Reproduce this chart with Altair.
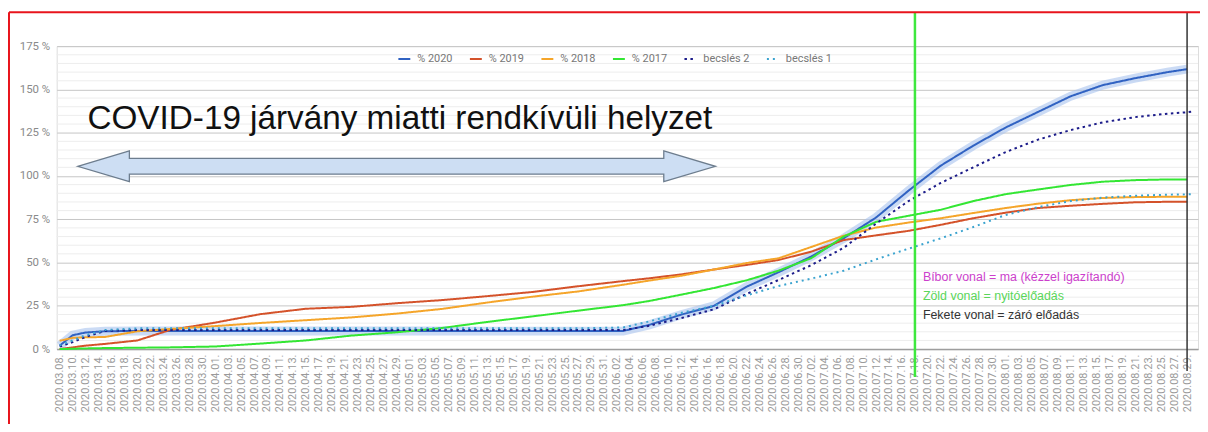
import altair as alt
import pandas as pd

# ---------------- data ----------------
DATES = ["2020-03-08", "2020-03-10", "2020-03-12", "2020-03-15", "2020-03-20", "2020-03-25",
         "2020-04-01", "2020-04-08", "2020-04-15", "2020-04-22", "2020-04-29", "2020-05-06",
         "2020-05-13", "2020-05-20", "2020-05-27", "2020-06-03", "2020-06-07", "2020-06-12",
         "2020-06-17", "2020-06-22", "2020-06-27", "2020-07-02", "2020-07-07", "2020-07-12",
         "2020-07-17", "2020-07-22", "2020-07-27", "2020-08-01", "2020-08-06", "2020-08-11",
         "2020-08-16", "2020-08-21", "2020-08-26", "2020-08-29", "2020-08-30"]

P2020 = [2, 8, 9.6, 10.3, 10.5, 10.5, 10.5, 10.5, 10.5, 10.5, 10.5, 10.5, 10.4, 10.4, 10.4, 10.5,
         14, 20, 25, 36, 44.5, 53.5, 64, 76, 91.5, 106, 117.5, 128, 137, 146, 152.5, 156.5, 160, 161.7, None]
P2019 = [0, 1, 2, 3, 5, 11, 15.3, 20.2, 23.3, 24.4, 26.5, 28.3, 30.6, 33, 36.3, 39.3, 40.9, 43.2,
         46, 48.6, 51.5, 56.3, 63, 65.7, 68.3, 71.8, 75.6, 78.8, 81.5, 82.8, 83.9, 84.8, 85.1, 85.1, None]
P2018 = [4.8, 6.5, 6.8, 7, 10.3, 11.6, 13.3, 15.1, 16.7, 18.3, 20.5, 23.2, 26.9, 30.3, 33.3, 37.2,
         39.6, 42.4, 46, 49.7, 52.5, 59, 65.5, 70.2, 73.1, 75.6, 78.6, 81.5, 84, 86, 87.3, 87.8, 88, 88, None]
P2017 = [0, 0.2, 0.4, 0.6, 0.8, 1, 1.5, 3.2, 5, 7.8, 9.7, 12.2, 15.7, 18.9, 22.2, 25.4, 27.8, 31.5,
         35.3, 39.7, 45.4, 52.5, 65, 73.5, 77, 80.5, 85.5, 89.5, 92.2, 94.8, 96.7, 97.6, 98, 98, None]
BECSLES2 = [1.5, 4, 7, 10.5, 11, 11, 11, 11, 11, 11, 11, 11, 11, 11, 11, 11, 13.5, 18, 23, 31.8,
            40, 48.5, 58.5, 72.5, 85.5, 96, 105, 113.8, 121, 126.5, 131, 134, 136, 136.8, 137.3]
BECSLES1 = [2, 5, 8, 11, 12, 12, 12, 12, 12, 12, 12, 12, 12, 12, 12, 12.5, 16, 21, 25, 31, 36.5,
            40.7, 45.3, 51.8, 58, 64, 70.5, 77.5, 82, 85.5, 87.5, 88.6, 89.2, 89.4, 89.5]

SERIES = ["% 2020", "% 2019", "% 2018", "% 2017", "becslés 2", "becslés 1"]
VALUES = [P2020, P2019, P2018, P2017, BECSLES2, BECSLES1]
COLORS = ["#3062c2", "#d4522a", "#f5a52a", "#33e633", "#1c1c8a", "#3aa3cf"]

Y_TICKS = [0, 25, 50, 75, 100, 125, 150, 175]
MINOR_GRID = [v for v in range(5, 175, 5) if v % 25]
X_TICKS = pd.date_range("2020-03-08", "2020-08-29", freq="2D")

TITLE = "COVID-19 járvány miatti rendkívüli helyzet"
NOTES = ["Bíbor vonal = ma (kézzel igazítandó)", "Zöld vonal = nyitóelőadás", "Fekete vonal = záró előadás"]
NOTE_COLORS = ["#cc3fcc", "#5ad65a", "#333333"]

# ---------------- build ----------------
rows = []
for name, vals in zip(SERIES, VALUES):
    for d, v in zip(DATES, vals):
        if v is not None:
            rows.append({"date": d, "series": name, "value": v})
df = pd.DataFrame(rows)


def dt(y, m, d, h=0, mi=0):
    return alt.DateTime(year=y, month=m, date=d, hours=h, minutes=mi, utc=True)


X_SCALE = alt.Scale(type="utc", domain=[dt(2020, 3, 7, 13), dt(2020, 8, 30, 16, 30)])
Y_SCALE = alt.Scale(domain=[0, 175], nice=False, zero=True)

x_axis = alt.Axis(values=[dt(t.year, t.month, t.day) for t in X_TICKS], format="%Y.%m.%d.",
                  labelAngle=270, labelFontSize=11, labelColor="#9a9a9a", labelPadding=5,
                  labelFont="Roboto", labelOverlap=False, labelFlush=False, ticks=False,
                  grid=False, domain=True, domainColor="#9e9e9e", domainWidth=1.5, title=None)
y_axis = alt.Axis(values=Y_TICKS, labelExpr="datum.value + ' %'", gridColor="#c6c6c6", gridWidth=1,
                  domain=False, ticks=False, labelColor="#8a8a8a", labelFontSize=11.5, labelPadding=7,
                  labelFont="Roboto", title=None)

color = alt.Color("series:N", scale=alt.Scale(domain=SERIES, range=COLORS),
                  legend=alt.Legend(orient="none", legendX=343, legendY=6, direction="horizontal",
                                    columns=6, title=None, symbolType="stroke", symbolSize=144,
                                    symbolStrokeWidth=4, labelFontSize=11, labelColor="#777777",
                                    labelFont="Roboto", columnPadding=13, labelOffset=6,
                                    padding=0, offset=0))
dash = alt.StrokeDash("series:N", scale=alt.Scale(domain=SERIES,
                      range=[[1, 0], [1, 0], [1, 0], [1, 0], [2.5, 3.5], [2, 4]]))
width = alt.StrokeWidth("series:N", scale=alt.Scale(domain=SERIES, range=[2, 2, 2, 2, 3, 2.5]),
                        legend=None)

X_ENC = alt.X("date:T", scale=X_SCALE, axis=x_axis)
Y_ENC = alt.Y("value:Q", scale=Y_SCALE, axis=y_axis)

minor = alt.Chart(pd.DataFrame({"value": MINOR_GRID})).mark_rule(color="#ededed", strokeWidth=1).encode(
    y=Y_ENC)

band = alt.Chart(df[df.series == "% 2020"]).mark_line(color="#a9c3ee", strokeWidth=9, opacity=0.6).encode(
    x=X_ENC, y=Y_ENC)

actual = alt.Chart(df[df.series.isin(SERIES[:4])]).mark_line().encode(
    x=X_ENC, y=Y_ENC, color=color, strokeDash=dash, strokeWidth=width,
    order=alt.Order("date:T"))

estimates = alt.Chart(df[df.series.isin(SERIES[4:])]).mark_line().encode(
    x=X_ENC, y=Y_ENC, color=color, strokeDash=dash, strokeWidth=width,
    order=alt.Order("date:T"))


def xd(d):
    return alt.XDatum(d, type="temporal", axis=x_axis)


def yd(v):
    return alt.YDatum(v, axis=y_axis)


green_line = alt.Chart().mark_rule(color="#3ee83e", strokeWidth=2.5).encode(
    x=xd(dt(2020, 7, 18)), y=alt.value(-34), y2=alt.value(333))
black_line = alt.Chart().mark_rule(color="#333333", strokeWidth=1.5).encode(
    x=xd(dt(2020, 8, 29)), y=alt.value(-34), y2=alt.value(327))

ARROW = ("M -1 0 L -0.838 -0.0483 L -0.838 -0.0249 L 0.838 -0.0249 L 0.838 -0.0483 L 1 0 "
         "L 0.838 0.0483 L 0.838 0.0249 L -0.838 0.0249 L -0.838 0.0483 Z")
arrow = alt.Chart().mark_point(shape=ARROW, size=412164, filled=True, fill="#cddef3",
                               stroke="#6d7d8e", strokeWidth=1.3, opacity=1).encode(
    x=xd(dt(2020, 4, 29)), y=yd(105.6))

title = alt.Chart().mark_text(text=TITLE, font="Liberation Sans", fontSize=33.5, align="left",
                              baseline="alphabetic", color="#111111").encode(
    x=xd(dt(2020, 3, 12, 7)), y=yd(127.4))

note_layers = []
for txt, col, yv in zip(NOTES, NOTE_COLORS, [39.6, 28.6, 17.6]):
    note_layers.append(alt.Chart().mark_text(text=txt, font="Liberation Sans", fontSize=12.5,
                                             align="left", baseline="alphabetic", dx=8, color=col).encode(
        x=xd(dt(2020, 7, 18)), y=yd(yv)))

border_left = alt.Chart().mark_rule(color="#e8141c", strokeWidth=2).encode(
    x=alt.value(-48), y=alt.value(-34), y2=alt.value(420))
border_top = alt.Chart().mark_rule(color="#e8141c", strokeWidth=2).encode(
    y=alt.value(-34), x=alt.value(-48), x2=alt.value(1160))

chart = alt.layer(minor, band, actual, estimates, arrow, title, *note_layers,
                  green_line, black_line, border_left, border_top).properties(
    width=1149, height=305,
    autosize=alt.AutoSizeParams(type="none"),
    padding={"left": 49, "top": 37, "right": 2, "bottom": 74},
).configure_view(stroke=None).configure(background="white")

chart.save("out.html", embed_options={"renderer": "svg", "actions": False})
